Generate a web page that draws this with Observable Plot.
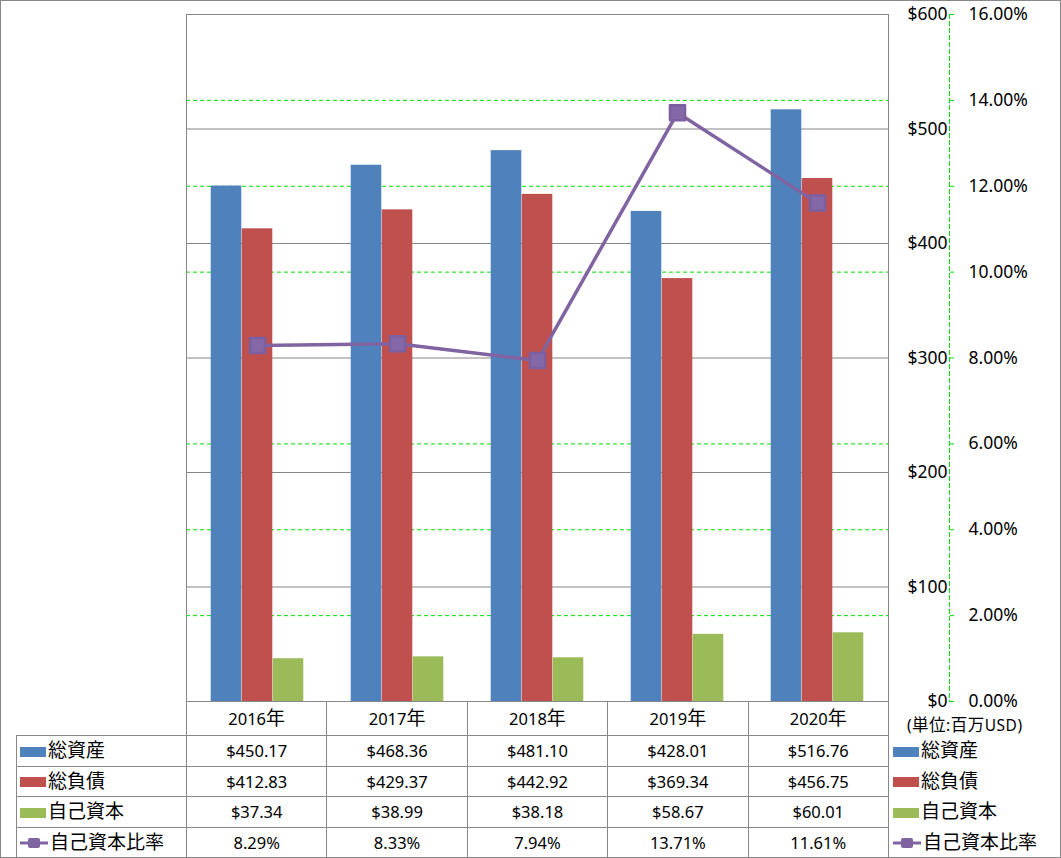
<!DOCTYPE html>
<html>
<head>
<meta charset="utf-8">
<script src="https://cdn.jsdelivr.net/npm/d3@7"></script>
<script src="https://cdn.jsdelivr.net/npm/@observablehq/plot@0.6"></script>
<style>
  html, body { margin: 0; padding: 0; background: #fff; }
  #wrap { position: relative; width: 1061px; height: 858px; overflow: hidden; font-family: "Noto Sans", "Noto Sans CJK JP", sans-serif; color: #000; }
  #border { position: absolute; left: 0; top: 0; width: 1061px; height: 858px; box-sizing: border-box; border: 1px solid #888; pointer-events: none; }
  #tbl { position: absolute; left: 16px; top: 701px; border-collapse: collapse; table-layout: fixed; font-size: 16.5px; }
  #tbl td { border: 1px solid #888; text-align: center; padding: 0; white-space: nowrap; }
  #tbl td.blank { border: none; }
  #tbl td.lab { text-align: left; padding-left: 3px; }
  #tbl td.leg { border: none; text-align: left; padding-left: 4px; }
  #tbl tr.head td { height: 33px; }
  #tbl tr.row td { height: 29.5px; }
  .jp { font-family: "Noto Sans CJK JP", sans-serif; font-size: 19px; line-height: 1; }
  .key { display: inline-block; width: 26px; height: 10px; vertical-align: middle; margin-right: 2px; position: relative; top: -1px; }
  .unit { display: inline-block; font-size: 15.5px; line-height: 16px; padding-left: 14px; position: relative; top: 6px; letter-spacing: 0.5px; }
  .unit .jp { font-size: 16.5px; line-height: 16px; }
</style>
</head>
<body>
<div id="wrap"></div>
<script>
const years = ["2016年", "2017年", "2018年", "2019年", "2020年"];
const totalAssets = [450.17, 468.36, 481.10, 428.01, 516.76];
const totalLiabilities = [412.83, 429.37, 442.92, 369.34, 456.75];
const equity = [37.34, 38.99, 38.18, 58.67, 60.01];
const equityRatio = [8.29, 8.33, 7.94, 13.71, 11.61];
const seriesNames = ["総資産", "総負債", "自己資本", "自己資本比率"];
const seriesColors = ["#4F81BD", "#C0504D", "#9BBB59", "#8064A2"];
const dollarTicks = [0, 100, 200, 300, 400, 500, 600];
const pctTicks = [0, 2, 4, 6, 8, 10, 12, 14, 16];
const pctGrid = [2, 4, 6, 10, 12, 14];
const unitLabel = "(単位:百万USD)";

const pctToDollar = 600 / 16;

const barData = years.map((y, i) => ({year: y, a: totalAssets[i], l: totalLiabilities[i], e: equity[i], r: equityRatio[i]}));

const bw = 31;
const inset = (702 / 5 - bw) / 2;

const chart = Plot.plot({
  width: 1061,
  height: 858,
  marginLeft: 186,
  marginRight: 173,
  marginTop: 14,
  marginBottom: 157,
  style: {fontSize: "17.5px", fontFamily: '"Noto Sans", "Noto Sans CJK JP", sans-serif', color: "#000", background: "transparent", overflow: "visible"},
  x: {type: "band", domain: years, paddingInner: 0, paddingOuter: 0, axis: null},
  y: {domain: [0, 600], axis: null},
  marks: [
    Plot.ruleY(pctGrid, {y: d => d * pctToDollar, stroke: "#00e000", strokeDasharray: "4,3", strokeWidth: 1}),
    Plot.ruleY(dollarTicks, {stroke: "#868686", strokeWidth: 1}),
    Plot.barY(barData, {x: "year", y: "a", fill: seriesColors[0], insetLeft: inset, insetRight: inset, dx: -bw}),
    Plot.barY(barData, {x: "year", y: "l", fill: seriesColors[1], insetLeft: inset, insetRight: inset}),
    Plot.barY(barData, {x: "year", y: "e", fill: seriesColors[2], insetLeft: inset, insetRight: inset, dx: bw}),
    Plot.line(barData, {x: "year", y: d => d.r * pctToDollar, stroke: seriesColors[3], strokeWidth: 3.5}),
    Plot.dot(barData, {x: "year", y: d => d.r * pctToDollar, symbol: "square", r: 8.5, fill: "#8468A8", stroke: "#7C5FA0", strokeWidth: 2.5, strokeLinejoin: "round"}),
    Plot.frame({stroke: "#868686"}),
    Plot.text(dollarTicks, {y: d => d, frameAnchor: "right", dx: 59, textAnchor: "end", text: d => "$" + d, fill: "#000"}),
    Plot.frame({anchor: "right", dx: 61, stroke: "#00e000", strokeDasharray: "4,3"}),
    Plot.axisY(pctTicks.map(d => d * pctToDollar), {anchor: "right", tickSize: 4, dx: 61, stroke: "#00e000", tickFormat: () => "", label: null}),
    Plot.text(pctTicks, {y: d => d * pctToDollar, frameAnchor: "right", dx: 80, textAnchor: "start", text: d => d.toFixed(2) + "%", fill: "#000"})
  ]
});

const wrap = document.getElementById("wrap");
chart.style.position = "absolute";
chart.style.left = "0px";
chart.style.top = "0px";
wrap.appendChild(chart);

const jp = s => s.replace(/([^\x00-\x7F]+)/g, '<span class="jp">$1</span>');

function keyHtml(i) {
  if (i < 3) return `<span class="key" style="background:${seriesColors[i]}"></span>`;
  return `<svg width="28" height="14" style="vertical-align:middle;margin-right:2px;position:relative;top:-1px"><line x1="0" y1="7" x2="28" y2="7" stroke="${seriesColors[3]}" stroke-width="3"/><rect x="8" y="2" width="12" height="10" rx="2" fill="${seriesColors[3]}"/></svg>`;
}

const rowsData = [
  totalAssets.map(v => "$" + v.toFixed(2)),
  totalLiabilities.map(v => "$" + v.toFixed(2)),
  equity.map(v => "$" + v.toFixed(2)),
  equityRatio.map(v => v.toFixed(2) + "%")
];

let html = `<colgroup><col style="width:170px">` + years.map(() => `<col style="width:140.4px">`).join("") + `<col style="width:172px"></colgroup>`;
html += `<tr class="head"><td class="blank"></td>` + years.map(y => `<td>${jp(y)}</td>`).join("") + `<td class="leg"><span class="unit">${jp(unitLabel)}</span></td></tr>`;
rowsData.forEach((r, i) => {
  html += `<tr class="row"><td class="lab">${keyHtml(i)}${jp(seriesNames[i])}</td>` + r.map(v => `<td>${v}</td>`).join("") + `<td class="leg">${keyHtml(i)}${jp(seriesNames[i])}</td></tr>`;
});
const tbl = document.createElement("table");
tbl.id = "tbl";
tbl.innerHTML = html;
wrap.appendChild(tbl);

const border = document.createElement("div");
border.id = "border";
wrap.appendChild(border);
</script>
</body>
</html>
